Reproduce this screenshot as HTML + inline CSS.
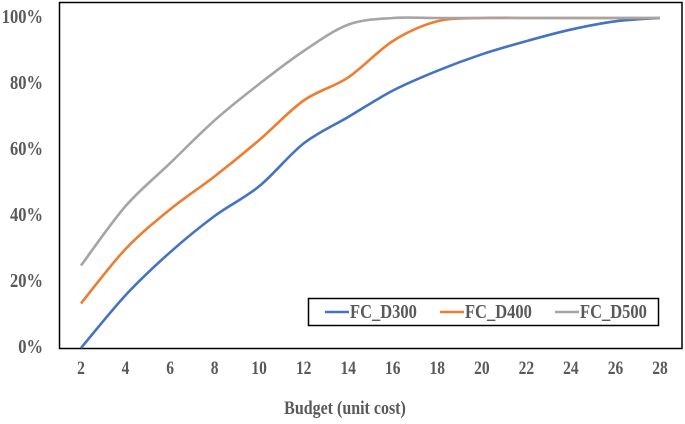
<!DOCTYPE html>
<html><head><meta charset="utf-8"><style>
body{margin:0;background:#fff}
svg text{font-family:"Liberation Serif",serif;font-weight:bold;fill:#595959}
</style></head><body>
<svg id="chart" width="685" height="419" viewBox="0 0 685 419" xmlns="http://www.w3.org/2000/svg">
<rect x="59.5" y="2.5" width="622.5" height="346" fill="none" stroke="#000" stroke-width="1.5"/>
<g id="yticks"></g><g id="xticks"></g><g id="series"></g>
<text x="345" y="414" text-anchor="middle" font-size="16" transform="translate(0,414) scale(1,1.2) translate(0,-414)">Budget (unit cost)</text>
<g>
<rect x="308.5" y="298.5" width="350" height="27" fill="#fff" stroke="#000" stroke-width="1.5"/>
<g id="legend-items"></g>
</g>
</svg>
<script>
const budgets=[2,4,6,8,10,12,14,16,18,20,22,24,26,28];
const d300=[0,16,29,40,49,62,70,78,84,89,93,96.5,99,100];
const d400=[13.5,30,42,52,63,75,82,93,99,100,100,100,100,100];
const d500=[25,43,56,69,80,90,98,100,100,100,100,100,100,100];
const seriesNames=["FC_D300","FC_D400","FC_D500"];
const colors=["#4472C4","#ED7D31","#A5A5A5"];
const yTicks=[0,20,40,60,80,100];
const NS="http://www.w3.org/2000/svg";
const xs=v=>81+(v-2)*(579/26);
const ys=v=>348-v*3.3;
function mk(t,a,p){const e=document.createElementNS(NS,t);for(const k in a)e.setAttribute(k,a[k]);p.appendChild(e);return e;}
function stretch(e,y){e.setAttribute('transform',`translate(0,${y}) scale(1,1.2) translate(0,${-y})`);}
const yg=document.getElementById('yticks');
yTicks.forEach(t=>{const y=ys(t)+5;const e=mk('text',{x:43,y:y,'text-anchor':'end','font-size':'16.5'},yg);e.textContent=t+'%';stretch(e,y);

});
const xg=document.getElementById('xticks');
budgets.forEach(b=>{const e=mk('text',{x:xs(b),y:374,'text-anchor':'middle','font-size':'15.5'},xg);e.textContent=b;stretch(e,374);

});
function smooth(pts){let d=`M${pts[0][0]},${pts[0][1]}`;for(let i=0;i<pts.length-1;i++){const p0=pts[i-1]||pts[i],p1=pts[i],p2=pts[i+1],p3=pts[i+2]||p2;const t=0.16;
const c1=[p1[0]+(p2[0]-p0[0])*t,p1[1]+(p2[1]-p0[1])*t],c2=[p2[0]-(p3[0]-p1[0])*t,p2[1]-(p3[1]-p1[1])*t];d+=`C${c1[0]},${c1[1]} ${c2[0]},${c2[1]} ${p2[0]},${p2[1]}`;}return d;}
const sg=document.getElementById('series');
[d300,d400,d500].forEach((s,i)=>{const p=mk('path',{d:smooth(s.map((v,j)=>[xs(budgets[j]),ys(v)])),fill:'none',stroke:colors[i],'stroke-width':'2.6'},sg);

});
const lg=document.getElementById('legend-items');
const lx=[325,440,555];
seriesNames.forEach((n,i)=>{const g=mk('g',{},lg);


mk('line',{x1:lx[i],x2:lx[i]+24,y1:312,y2:312,stroke:colors[i],'stroke-width':'2.6'},g);
const t=mk('text',{x:lx[i]+25,y:318,'font-size':'16.5'},g);t.textContent=n;stretch(t,318);});
</script>
</body></html>
